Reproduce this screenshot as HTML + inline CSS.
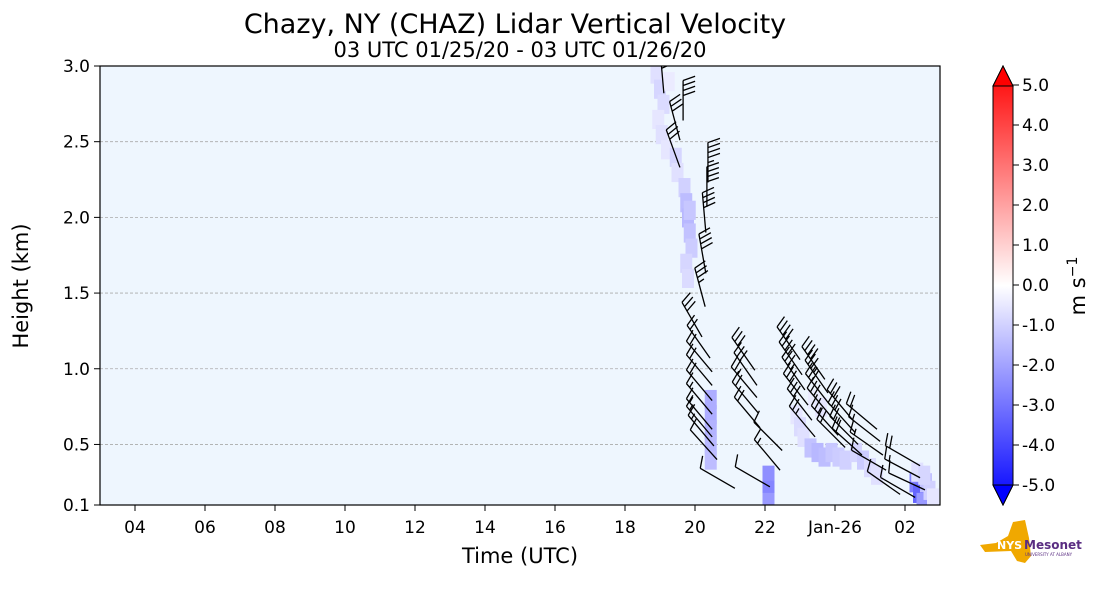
<!DOCTYPE html>
<html><head><meta charset="utf-8"><style>
body{margin:0;background:#fff;}
svg text{font-family:"DejaVu Sans","Liberation Sans",sans-serif;fill:#000;}
</style></head><body>
<svg id="chart" width="1101" height="600" viewBox="0 0 1101 600" xmlns="http://www.w3.org/2000/svg">
<defs>
<linearGradient id="cbgrad" x1="0" y1="1" x2="0" y2="0">
<stop offset="0" stop-color="#0000ff"/><stop offset="0.5" stop-color="#ffffff"/><stop offset="1" stop-color="#ff0000"/>
</linearGradient>
<clipPath id="plotclip"><rect x="100" y="66" width="840" height="439"/></clipPath>
</defs>
<text x="515" y="33" font-size="27" text-anchor="middle">Chazy, NY (CHAZ) Lidar Vertical Velocity</text>
<text x="520" y="57" font-size="21" text-anchor="middle">03 UTC 01/25/20 - 03 UTC 01/26/20</text>
<rect x="100" y="66" width="840" height="439" fill="#eef6fe"/>
<g id="grid"></g>
<g id="cells" clip-path="url(#plotclip)"></g>
<g id="barbs" clip-path="url(#plotclip)"></g>
<rect x="100" y="66" width="840" height="439" fill="none" stroke="#000" stroke-width="1.2"/>
<g id="xaxis"></g>
<g id="yaxis"></g>
<text x="520" y="563" font-size="21" text-anchor="middle">Time (UTC)</text>
<text transform="translate(28,286) rotate(-90)" font-size="21" text-anchor="middle">Height (km)</text>
<g>
<path d="M993,86 L1003,66 L1013,86 L1013,485 L1003,505 L993,485 Z" fill="url(#cbgrad)" stroke="#000" stroke-width="1"/>
<path d="M993,86 L1003,66 L1013,86 Z" fill="#ff0000" stroke="#000"/>
<path d="M993,485 L1003,505 L1013,485 Z" fill="#0000ff" stroke="#000"/>
</g>
<g id="cbticks"></g>
<text transform="translate(1085,286) rotate(-90)" font-size="21" text-anchor="middle">m s<tspan dy="-8" font-size="14">−1</tspan></text>
<g>
<path d="M980,545 L996,543 L1008,536 L1013,522 L1025,520 L1029,538 L1031,556 L1025,563 L1017,561 L1011,551 L985,552 Z" fill="#f0a800"/>
<text x="997" y="549" font-size="11" font-weight="bold" style="fill:#fff">NYS</text>
<text x="1024" y="549" font-size="12" font-weight="bold" style="fill:#5a2d82">Mesonet</text>
<text x="1025" y="556" font-size="4" style="fill:#5a2d82">UNIVERSITY AT ALBANY</text>
</g>
</svg>
<script>
// ---- data ----
const xTickHours = [4,6,8,10,12,14,16,18,20,22,24,26];
const xTickLabels = ["04","06","08","10","12","14","16","18","20","22","Jan-26","02"];
const yTicks = [0.1,0.5,1.0,1.5,2.0,2.5,3.0];
const yTickLabels = ["0.1","0.5","1.0","1.5","2.0","2.5","3.0"];
const gridKm = [0.5,1.0,1.5,2.0,2.5];
const cbTicks = [5,4,3,2,1,0,-1,-2,-3,-4,-5];
const cbTickLabels = ["5.0","4.0","3.0","2.0","1.0","0.0","-1.0","-2.0","-3.0","-4.0","-5.0"];
// wind barbs: time (h UTC since 00 Jan 25), height (km), direction (deg from), speed (kt)
const barbHour = [19.11,19.66,19.57,19.57,20.37,20.34,20.31,20.31,20.29,20.2,
 20.43,20.49,20.49,20.49,20.49,20.49,20.49,20.54,20.63,21.14,
 21.71,21.77,21.77,21.80,21.86,22.43,22.14,22.49,
 23.0,23.06,23.14,23.23,23.34,23.43,
 23.71,23.8,23.86,23.94,24.09,24.29,
 24.51,24.57,24.66,24.77,
 25.2,25.29,25.37,25.46,
 26.43,26.43,26.57,26.29,25.86];
const barbKm = [2.82,2.64,2.51,2.33,2.23,2.07,1.90,1.63,1.41,1.21,
 1.07,0.98,0.89,0.79,0.70,0.60,0.55,0.49,0.40,0.21,
 0.99,0.89,0.81,0.71,0.61,0.33,0.22,0.46,
 1.06,0.96,0.86,0.76,0.66,0.55,
 0.93,0.84,0.76,0.67,0.56,0.48,
 0.66,0.58,0.50,0.43,
 0.60,0.52,0.43,0.33,
 0.36,0.28,0.20,0.15,0.17];
const barbDir = [355,0,345,340,0,0,355,350,345,330,
 325,320,320,320,320,320,320,320,318,300,
 325,325,320,320,320,320,300,315,
 325,325,325,322,322,320,
 325,325,322,320,318,315,
 320,318,315,312,
 310,308,305,300,
 300,298,295,300,305];
const barbSpeed = [40,40,30,30,45,40,40,40,35,30,
 20,20,20,20,15,15,15,15,10,10,
 30,30,25,20,20,15,10,10,
 40,40,35,30,30,25,
 40,35,30,30,25,20,
 30,30,25,20,
 20,15,15,10,
 20,15,10,10,10];
// vertical velocity cells: time (h), height (km), w (m/s)
const cellHour = [18.9,19.0,19.1,18.95,19.05,19.2,19.25,19.45,19.5,19.7,19.75,19.8,19.85,19.9,19.75,19.8,19.85,
 20.45,20.45,20.45,20.45,20.45,22.1,22.1,22.1,
 22.9,23.0,23.1,23.3,23.5,23.7,23.9,24.1,24.3,23.4,23.6,
 24.6,24.8,25.0,25.2,
 26.3,26.4,26.5,26.6,26.7,26.35,26.55,26.8];
const cellKm = [2.95,2.85,2.75,2.65,2.55,2.45,2.9,2.4,2.3,2.2,2.1,2.0,1.9,1.8,1.7,1.6,2.05,
 0.8,0.7,0.6,0.5,0.4,0.3,0.2,0.12,
 0.7,0.62,0.55,0.48,0.45,0.42,0.45,0.42,0.4,0.8,0.75,
 0.45,0.4,0.35,0.3,
 0.25,0.18,0.12,0.25,0.2,0.32,0.3,0.15];
const cellW = [-0.6,-0.8,-0.7,-0.5,-0.6,-0.5,-0.4,-0.8,-0.6,-0.9,-1.3,-1.4,-1.2,-1.0,-0.8,-0.7,-1.1,
 -1.6,-1.6,-1.5,-1.4,-1.3,-2.2,-2.4,-2.0,
 -0.5,-0.7,-0.6,-1.2,-1.4,-1.3,-1.1,-1.0,-0.9,-0.4,-0.5,
 -0.8,-1.0,-0.7,-0.6,
 -2.5,-3.0,-2.0,-1.2,-0.9,-0.6,-0.8,-0.5];

// ---- axes ----
const X0=100, X1=940, Y0=505, Y1=66;
const xs = h => X0 + (h-3)*(X1-X0)/24;
const ys = km => Y0 - (km-0.1)*(Y0-Y1)/2.9;
const cbY = v => 485 - (v+5)*(400/10);
const NS="http://www.w3.org/2000/svg";
function mk(tag, attrs, parent){const e=document.createElementNS(NS,tag);for(const k in attrs)e.setAttribute(k,attrs[k]);document.getElementById(parent).appendChild(e);return e;}
function wColor(w){const t=Math.min(1,Math.abs(w)/5);const c=Math.round(255*(1-t));return w<0?`rgb(${c},${c},255)`:`rgb(255,${c},${c})`;}

gridKm.forEach(k=>{const l=mk('line',{x1:X0,x2:X1,y1:ys(k),y2:ys(k),stroke:'#aaa','stroke-dasharray':'3,2','stroke-width':0.8},'grid');

});

cellHour.forEach((h,i)=>{const r=mk('rect',{x:xs(h)-6,y:ys(cellKm[i]+0.06),width:12,height:(Y0-Y1)/2.9*0.12+1,fill:wColor(cellW[i])},'cells');

});

barbHour.forEach((h,i)=>{
  const bx=xs(h), by=ys(barbKm[i]);
  const a=barbDir[i]*Math.PI/180, L=40;
  const ux=Math.sin(a), uy=-Math.cos(a);
  const tx=bx+ux*L, ty=by+uy*L;
  const g=mk('g',{stroke:'#000','stroke-width':1.3,fill:'none'},'barbs');
  
  
  let d=`M${bx},${by}L${tx},${ty}`;
  let n=Math.round(barbSpeed[i]/5); let k=0;
  const px=-uy, py=ux;
  while(n>0){const f=n>=2?12:6; const sx=tx-ux*k*5, sy=ty-uy*k*5;
    d+=`M${sx},${sy}L${sx+px*f+ux*f*0.35},${sy+py*f+uy*f*0.35}`; n-=n>=2?2:1; k++;}
  const p=document.createElementNS(NS,'path');p.setAttribute('d',d);g.appendChild(p);
});

xTickHours.forEach((h,i)=>{mk('line',{x1:xs(h),x2:xs(h),y1:Y0,y2:Y0+6,stroke:'#000'},'xaxis');
 const t=mk('text',{x:xs(h),y:Y0+28,'font-size':17,'text-anchor':'middle'},'xaxis');t.textContent=xTickLabels[i];
 
 });
yTicks.forEach((k,i)=>{mk('line',{x1:X0-6,x2:X0,y1:ys(k),y2:ys(k),stroke:'#000'},'yaxis');
 const t=mk('text',{x:X0-10,y:ys(k)+6,'font-size':17,'text-anchor':'end'},'yaxis');t.textContent=yTickLabels[i];
 
 });
cbTicks.forEach((v,i)=>{mk('line',{x1:1013,x2:1019,y1:cbY(v),y2:cbY(v),stroke:'#000'},'cbticks');
 const t=mk('text',{x:1022,y:cbY(v)+6,'font-size':17},'cbticks');t.textContent=cbTickLabels[i];
 
 });
</script>
</body></html>
